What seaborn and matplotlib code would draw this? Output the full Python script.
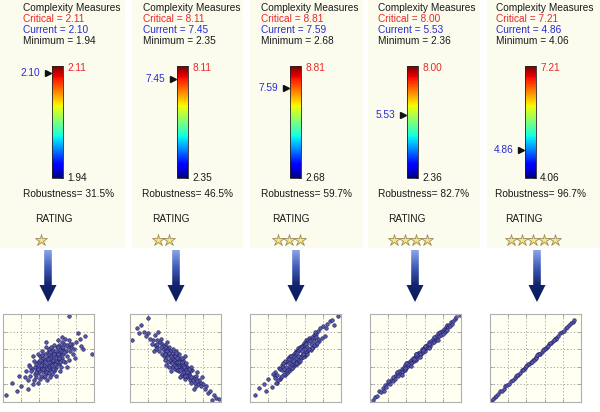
import numpy as np
import matplotlib
matplotlib.use("Agg")
import matplotlib.pyplot as plt
import matplotlib as mpl
import seaborn as sns
from matplotlib.patches import Rectangle, Polygon
from matplotlib.colors import LinearSegmentedColormap, Normalize
from matplotlib.ticker import LinearLocator
from matplotlib.transforms import blended_transform_factory

# ---------------- data ----------------
critical = [2.11, 8.11, 8.81, 8.00, 7.21]
current = [2.10, 7.45, 7.59, 5.53, 4.86]
minimum = [1.94, 2.35, 2.68, 2.36, 4.06]
robustness = [31.5, 46.5, 59.7, 82.7, 96.7]
rating = [1, 2, 3, 4, 5]

scatter1 = [(52,45),(40,38),(63,55),(55,50),(30,30),(70,52),(45,47),(58,40),(48,33),(66,60),
            (35,40),(60,48),(50,52),(42,30),(75,62),(57,58),(38,45),(68,45),(53,38),(46,55),
            (62,65),(28,25),(72,70),(49,42),(56,35),(44,50),(65,50),(39,33),(59,62),(51,48),
            (33,20),(77,55),(47,40),(61,43),(54,60),(36,28),(69,58),(43,44),(58,52),(50,36),
            (25,35),(80,68),(41,52),(64,40),(55,44),(47,62),(60,70),(32,38),(73,48),(52,28),
            (45,35),(67,66),(38,22),(57,47),(49,57),(63,35),(34,47),(71,63),(44,41),(59,55),
            (20,18),(85,72),(53,53),(40,45),(66,54),(48,25),(62,58),(37,36),(56,65),(51,40),
            (29,42),(76,66),(42,37),(61,50),(54,32),(46,48),(68,72),(35,32),(58,44),(50,60),
            (15,12),(88,60),(24,28),(82,78),(39,55),(70,40),(45,28),(64,63),(31,35),(74,58),
            (53,46),(57,38),(43,58),(60,46),(48,50),(66,47),(36,43),(55,56),(41,26),(62,52),
            (10,22),(90,75),(27,15),(79,50),(47,68),(58,30),(33,52),(70,65),(52,42),(44,34),
            (98,55),(72,98),(3,8),(86,64),(18,30),(65,74),
            (50,45),(55,48),(45,42),(60,55),(40,35),(52,50),(58,47),(48,38),(62,50),(42,42),
            (56,54),(46,46),(64,58),(38,40),(54,42),(50,55),(44,38),(66,62),(36,34),(59,45),
            (53,62),(47,34),(61,60),(41,48),(57,43),(49,49),(63,46),(39,38),(67,57),(51,33),
            (34,25),(74,66),(43,53),(55,38),(65,68),(30,40),(78,60),(46,30),(60,63),(52,57)]

scatter2 = [(50,46),(38,58),(62,35),(55,40),(25,70),(70,28),(45,45),(58,44),(42,60),(66,25),
            (35,55),(60,38),(50,52),(40,50),(75,20),(57,32),(30,62),(68,36),(53,48),(46,40),
            (62,28),(20,78),(72,18),(48,55),(56,46),(44,52),(65,32),(33,68),(59,30),(51,42),
            (15,80),(78,22),(47,50),(61,40),(54,35),(28,65),(69,25),(41,55),(58,38),(50,58),
            (22,72),(82,15),(39,48),(64,38),(55,50),(45,35),(60,26),(30,70),(73,30),(52,54),
            (43,62),(67,22),(36,60),(57,42),(49,38),(63,40),(32,58),(71,22),(44,48),(59,34),
            (12,88),(86,10),(53,40),(40,62),(66,35),(47,60),(62,44),(35,66),(56,30),(51,48),
            (27,76),(76,25),(42,46),(61,32),(54,54),(46,50),(70,15),(34,72),(58,48),(49,44),
            (8,84),(92,8),(18,75),(88,12),(37,52),(74,34),(43,40),(65,28),(29,60),(80,20),
            (52,36),(57,50),(41,68),(63,30),(48,42),(67,40),(38,65),(55,28),(24,66),(79,28),
            (10,78),(95,4),(31,80),(84,18),(45,56),(60,52),(26,58),(72,26),(53,44),(40,42),
            (2,70),(20,96),(98,3),(90,2),
            (50,50),(55,44),(45,52),(60,40),(40,56),(52,46),(58,42),(48,48),(62,36),(42,54),
            (56,38),(46,56),(64,34),(38,62),(54,46),(50,40),(44,58),(66,30),(36,64),(59,40),
            (53,36),(47,46),(61,36),(41,58),(57,46),(49,52),(63,34),(39,54),(67,28),(51,56),
            (34,62),(74,24),(43,56),(55,36),(65,38),(30,66),(78,18),(46,44),(60,30),(52,50)]

scatter3 = [(52,47),(40,46),(63,57),(55,62),(30,22),(70,76),(45,37),(58,65),(48,55),(66,60),
            (35,42),(60,52),(50,45),(42,50),(75,81),(57,51),(38,31),(68,74),(53,61),(46,41),
            (62,70),(28,34),(72,65),(49,42),(56,50),(44,52),(65,73),(39,46),(59,54),(51,58),
            (33,26),(77,84),(47,53),(61,55),(54,45),(36,44),(69,62),(43,35),(58,64),(50,57),
            (25,32),(80,86),(41,33),(64,70),(55,47),(47,40),(60,67),(32,39),(73,77),(52,43),
            (45,52),(67,59),(38,47),(57,64),(49,56),(63,55),(34,28),(71,79),(44,39),(59,67),
            (20,26),(85,89),(53,49),(40,35),(66,71),(48,43),(62,58),(37,32),(56,63),(51,44),
            (29,22),(76,69),(42,47),(61,67),(54,59),(46,39),(68,61),(35,30),(58,51),(50,53),
            (15,20),(88,92),(24,17),(82,75),(39,37),(70,65),(45,49),(64,59),(31,25),(74,67),
            (53,58),(57,53),(43,49),(60,65),(48,51),(66,69),(36,40),(55,51),(41,37),(62,66),
            (10,16),(92,88),(27,30),(79,73),(47,44),(58,55),(33,38),(70,73),(52,56),(44,41),
            (97,98),(5,8),(90,93),(18,12),
            (65,60),(55,60),(45,43),(35,36),(75,72),(60,60),(50,50),(40,40),(70,69),(30,31),
            (57,58),(47,47),(63,63),(53,52),(43,44),(67,66),(37,38),(73,74),(27,27),(83,84)]

scatter4 = [(3,2),(5,6),(8,7),(10,12),(12,11),(14,16),(15,13),(17,19),(18,17),(20,22),
            (22,20),(23,25),(25,24),(27,30),(28,26),(30,33),(31,29),(32,35),(34,32),(35,38),
            (36,35),(37,40),(38,36),(39,42),(40,39),(41,44),(42,41),(43,46),(44,42),(45,48),
            (46,45),(47,50),(48,47),(49,51),(50,48),(51,54),(52,50),(53,56),(54,53),(55,57),
            (56,54),(57,60),(58,57),(59,61),(60,58),(61,64),(62,61),(63,65),(64,62),(65,68),
            (66,64),(67,69),(68,67),(69,72),(70,68),(71,73),(72,71),(73,75),(74,72),(75,78),
            (76,75),(77,79),(78,76),(79,81),(80,79),(81,83),(82,80),(83,85),(84,82),(85,87),
            (86,85),(87,88),(88,86),(89,91),(90,89),(91,92),(93,94),(95,97),(45,44),(50,52),
            (55,54),(60,62),(48,49),(52,53),(58,59),(62,63),(42,43),(38,39),(65,66),(35,34),
            (99,99),(40,44),(45,41),(50,54),(55,51),(60,64),(65,61),(30,34),(35,31),(70,74),
            (75,71),(25,28),(80,77),(20,24),(85,82)]

scatter5 = [(1,1),(3,3),(5,6),(7,7),(9,9),(11,12),(13,13),(15,15),(17,18),(19,19),
            (21,21),(23,24),(25,25),(27,27),(29,30),(31,31),(33,33),(35,36),(37,37),(39,39),
            (41,42),(43,43),(45,45),(47,48),(49,49),(51,51),(53,54),(55,55),(57,57),(59,60),
            (61,61),(63,63),(65,66),(67,67),(69,69),(71,72),(73,73),(75,75),(77,78),(79,79),
            (81,81),(83,84),(85,85),(87,87),(89,90),(91,91),(92,93),(30,31),(36,36),(42,43),
            (48,48),(54,55),(60,60),(66,67),(72,72),(40,41),(50,50),(58,59),(64,64),(70,71),
            (46,46),(52,53),(0,0)]

scatters = [scatter1, scatter2, scatter3, scatter4, scatter5]

# ---------------- layout (pixels) ----------------
W, H = 600, 412
panel_l = [0, 132, 250, 368, 487]
panel_r = [125, 243, 363, 480, 600]
text_x = [23, 143, 261, 378, 496]
rob_x = [23, 142, 261, 378, 495]
rat_x = [35, 152, 272, 388, 505]
cbar_l = [52, 177, 290, 407, 525]
arrow_cx = [48, 176, 296, 415, 537]
sc_l = [3, 130, 250, 370, 490]

sns.set_style("white")
plt.rcParams['font.family'] = ['Liberation Sans', 'DejaVu Sans']
FS = 7.3
RED, BLUE, BLACK = '#e8282c', '#2a2ad8', '#1a1a1a'

fig = plt.figure(figsize=(W / 100, H / 100), dpi=100)
fig.patch.set_facecolor('white')

def fax(l, t, w, h, **kw):
    return fig.add_axes([l / W, 1 - (t + h) / H, w / W, h / H], **kw)

ov = fig.add_axes([0, 0, 1, 1], zorder=-1)
ov.set_xlim(0, W)
ov.set_ylim(H, 0)
ov.axis('off')

arrow_cmap = LinearSegmentedColormap.from_list('arr', ['#8aa4e6', '#3f5cb8', '#13246e', '#0a1858'])
grad = np.linspace(0, 1, 100).reshape(-1, 1)

for i in range(5):
    # cream panel
    ov.add_patch(Rectangle((panel_l[i], 0), panel_r[i] - panel_l[i], 248,
                           facecolor='#fcfcee', edgecolor='none'))
    tx = text_x[i]
    ov.text(tx, 8, 'Complexity Measures', fontsize=FS, color=BLACK, va='center', ha='left')
    ov.text(tx, 19, f'Critical = {critical[i]:.2f}', fontsize=FS, color=RED, va='center', ha='left')
    ov.text(tx, 30, f'Current = {current[i]:.2f}', fontsize=FS, color=BLUE, va='center', ha='left')
    ov.text(tx, 41, f'Minimum = {minimum[i]:.2f}', fontsize=FS, color=BLACK, va='center', ha='left')
    ov.text(rob_x[i], 194, f'Robustness= {robustness[i]:.1f}%', fontsize=FS, color=BLACK,
            va='center', ha='left')
    ov.text(rat_x[i], 219, 'RATING', fontsize=FS, color=BLACK, va='center', ha='left')
    star_x = [rat_x[i] + 6 + 11 * k for k in range(rating[i])]
    ov.plot(star_x, [240] * rating[i], linestyle='none', marker='*', markersize=9,
            markerfacecolor='#f6e27e', markeredgecolor='#9a8a60', markeredgewidth=0.6)

    # arrow with gradient
    cx = arrow_cx[i]
    pts = [(cx - 3.8, 250), (cx + 3.8, 250), (cx + 3.8, 285), (cx + 8.5, 285),
           (cx, 302), (cx - 8.5, 285), (cx - 3.8, 285)]
    poly = Polygon(pts, closed=True, facecolor='none', edgecolor='none', transform=ov.transData)
    ov.add_patch(poly)
    im = ov.imshow(grad, extent=(cx - 9, cx + 9, 302, 250), cmap=arrow_cmap,
                   aspect='auto', origin='upper', interpolation='bilinear')
    im.set_clip_path(poly)

    # colour bar
    cax = fax(cbar_l[i], 66, 11, 112)
    sm = mpl.cm.ScalarMappable(norm=Normalize(minimum[i], critical[i]), cmap='jet')
    cb = fig.colorbar(sm, cax=cax)
    cb.outline.set_linewidth(0.6)
    cb.outline.set_edgecolor('#222222')
    cax.yaxis.set_major_locator(LinearLocator(9))
    cax.tick_params(axis='y', direction='in', length=2, width=0.6, color='#333333',
                    labelright=False, labelleft=False, right=True, left=False)
    bt = blended_transform_factory(cax.transAxes, cax.transData)
    cax.plot([-0.38], [current[i]], marker='>', markersize=4.5, color='#111111',
             transform=bt, clip_on=False, linestyle='none')
    cax.annotate(f'{current[i]:.2f}', xy=(0, current[i]), xycoords=bt, xytext=(-8.5, 0),
                 textcoords='offset points', ha='right', va='center', fontsize=FS, color=BLUE)
    cax.annotate(f'{critical[i]:.2f}', xy=(1, 1), xycoords='axes fraction', xytext=(3, -1.5),
                 textcoords='offset points', ha='left', va='center', fontsize=FS, color=RED)
    cax.annotate(f'{minimum[i]:.2f}', xy=(1, 0), xycoords='axes fraction', xytext=(3, 0),
                 textcoords='offset points', ha='left', va='center', fontsize=FS, color=BLACK)

    # scatter
    ax = fax(sc_l[i], 314, 91, 88)
    xs = [p[0] for p in scatters[i]]
    ys = [p[1] for p in scatters[i]]
    sns.scatterplot(x=xs, y=ys, ax=ax, s=6.5, color='#5a5aa8', edgecolor='#22226a',
                    linewidth=0.45)
    ax.set_xlim(0, 100)
    ax.set_ylim(0, 100)
    ax.set_facecolor('#fffff2')
    ax.set_xticks([20, 40, 60, 80])
    ax.set_yticks([20, 40, 60, 80])
    ax.grid(True, linestyle=(0, (1.5, 2.5)), color='#9a9a9a', linewidth=0.6)
    ax.tick_params(direction='in', length=2, width=0.5, color='#888888',
                   labelbottom=False, labelleft=False, top=True, right=True,
                   bottom=True, left=True)
    ax.set_axisbelow(True)
    for s in ax.spines.values():
        s.set_color('#b0b0b0')
        s.set_linewidth(0.8)

ov.set_xlim(0, W)
ov.set_ylim(H, 0)

fig.savefig('out.png', dpi=100)
